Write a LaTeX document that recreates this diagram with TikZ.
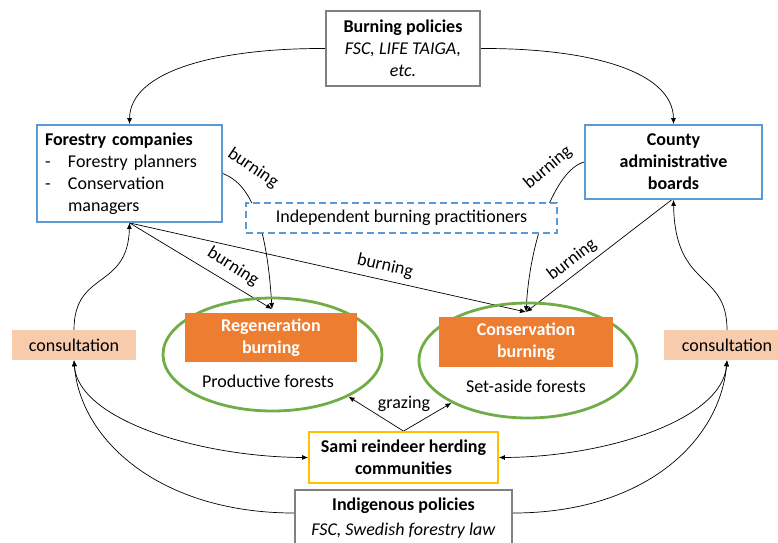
\documentclass[tikz,border=0pt]{standalone}
\usepackage{fontspec}
\setmainfont{Carlito}
\usetikzlibrary{arrows.meta,backgrounds,shapes.geometric}
\definecolor{cblue}{HTML}{5B9BD5}
\definecolor{cgray}{HTML}{808080}
\definecolor{corange}{HTML}{ED7D31}
\definecolor{cgreen}{HTML}{70AD47}
\definecolor{cpeach}{HTML}{F8CBAD}
\definecolor{cyellow}{HTML}{FFC000}
\begin{document}
\begin{tikzpicture}[x=1pt,y=-1pt,
  every node/.style={font=\fontsize{18}{22}\selectfont, inner sep=0pt},
  gbox/.style={draw=cgray, line width=1.8pt, fill=white, align=center},
  bbox/.style={draw=cblue, line width=1.8pt, fill=white},
  dbox/.style={draw=cblue, line width=1.8pt, fill=white, dash pattern=on 7pt off 4pt},
  ybox/.style={draw=cyellow, line width=1.8pt, fill=white, align=center},
  obox/.style={fill=corange, text=white, align=center, font=\fontsize{18}{22}\selectfont\bfseries},
  cbox/.style={fill=cpeach},
  forest/.style={ellipse, draw=cgreen, line width=2.8pt},
  conn/.style={line width=0.7pt, -{Latex[length=6pt,width=5pt]}},
  conn2/.style={line width=0.7pt, {Latex[length=6pt,width=5pt]}-{Latex[length=6pt,width=5pt]}},
  lab/.style={font=\fontsize{18}{22}\selectfont}]
\useasboundingbox (0,0) rectangle (778,542);

% nodes
\node[gbox, minimum width=154pt, minimum height=75pt] (bp) at (403,48.5)
  {\textbf{Burning policies}\\\textit{FSC, LIFE TAIGA,}\\\textit{etc.}};
\node[bbox, minimum width=185pt, minimum height=97pt, text width=169pt, align=left] (fc) at (129.5,173.5)
  {\textbf{Forestry companies}\\\makebox[23pt][l]{-}Forestry planners\\\makebox[23pt][l]{-}Conservation\\\hspace*{23pt}managers};
\node[bbox, minimum width=177pt, minimum height=74pt, align=center] (cab) at (673.5,162)
  {\textbf{County}\\\textbf{administrative}\\\textbf{boards}};
\node[dbox, minimum width=311pt, minimum height=30pt] (ibp) at (401.5,218) {Independent burning practitioners};

\node[forest, minimum width=219pt, minimum height=113pt] (pf) at (272.5,354.5) {};
\node[obox, minimum width=172pt, minimum height=49pt] (rb) at (271,337.5) {Regeneration\\burning};
\node (pft) at (268,381) {Productive forests};

\node[forest, minimum width=218pt, minimum height=115pt] (sf) at (528,360.5) {};
\node[obox, minimum width=174pt, minimum height=50pt] (cb) at (526,342) {Conservation\\burning};
\node (sft) at (526,386) {Set-aside forests};

\node[cbox, minimum width=124pt, minimum height=30pt] (cl) at (74,345) {consultation};
\node[cbox, minimum width=126pt, minimum height=30pt] (cr) at (727,345) {consultation};

\node[ybox, minimum width=189pt, minimum height=51pt] (sami) at (403.5,457.5)
  {\textbf{Sami reindeer herding}\\\textbf{communities}};
\node[gbox, minimum width=217pt, minimum height=56pt] (ip) at (403.5,518)
  {\textbf{Indigenous policies}\\[3pt]\textit{FSC, Swedish forestry law}};

\coordinate (rbin) at (272,309);
\coordinate (cbin) at (526,312);

% connectors
\begin{scope}[on background layer]
\draw[conn] (bp.west) .. controls (220,48) and (130,70) .. (fc.north);
\draw[conn] (bp.east) .. controls (586,48) and (673,70) .. (cab.north);
\draw[conn] (fc.east) .. controls (238,180) and (265,195) .. (rbin);
\draw[conn] (fc.south) -- (rbin);
\draw[conn] (fc.south) -- (cbin);
\draw[conn] (cab.west) .. controls (555,170) and (530,240) .. (cbin);
\draw[conn] ([xshift=-2pt]cab.south) -- (cbin);
\draw[conn] (cl.north) .. controls (74,270) and (128,290) .. (fc.south);
\draw[conn] (cr.north) .. controls (727,270) and (675,290) .. (cab.south);
\draw[conn2] (sami.west) .. controls (200,457) and (78,420) .. (cl.south);
\draw[conn] ([yshift=5pt]ip.west) .. controls (160,513) and (80,440) .. (cl.south);
\draw[conn2] (sami.east) .. controls (606,457) and (722,420) .. (cr.south);
\draw[conn] ([yshift=5pt]ip.east) .. controls (646,513) and (720,440) .. (cr.south);
\draw[conn] (sami.north) -- (pf.-29);
\draw[conn] (sami.north) -- (sf.-151);
\end{scope}

% labels
\node[lab, rotate=-34] (l1) at (253,168) {burning};
\node[lab, rotate=-32] (l2) at (233,267) {burning};
\node[lab, rotate=-13] (l3) at (385,266) {burning};
\node[lab, rotate=40] (l4) at (548,168) {burning};
\node[lab, rotate=37.5] (l5) at (572,260) {burning};
\node[lab] (l6) at (404,404) {grazing};
\end{tikzpicture}
\end{document}
